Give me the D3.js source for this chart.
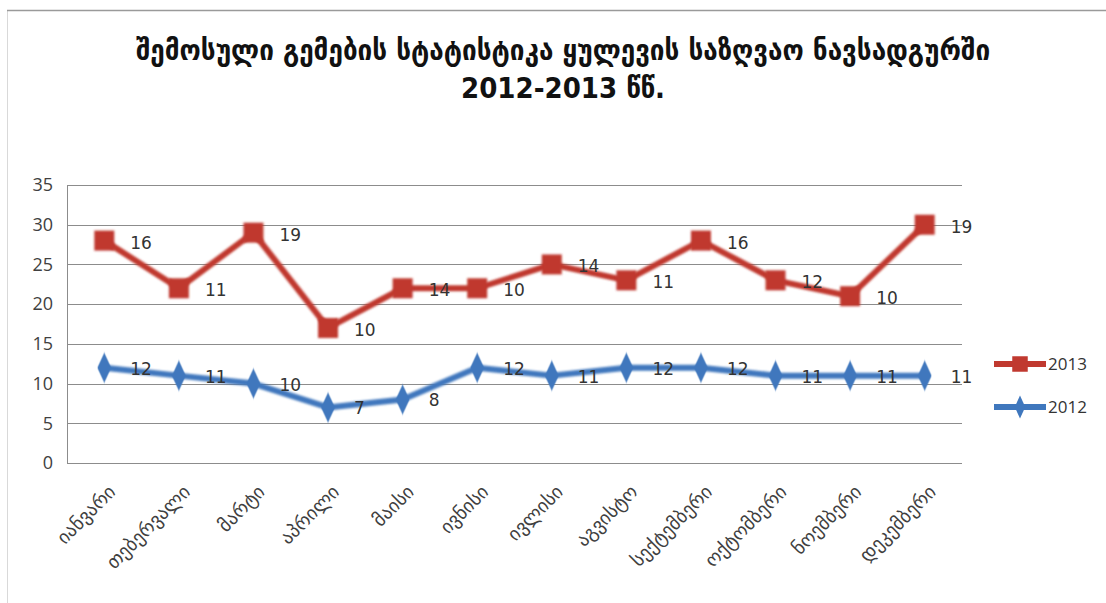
<!DOCTYPE html>
<html>
<head>
<meta charset="utf-8">
<script src="https://cdn.jsdelivr.net/npm/d3@7"></script>
<style>
  html, body { margin: 0; padding: 0; background: #fff; }
  svg { display: block; }
</style>
</head>
<body>
<svg id="chart" width="1106" height="603"></svg>
<script>
// Ships arriving at Kulevi sea port, by month, 2012 and 2013 (stacked lines)
const months = ["იანვარი","თებერვალი","მარტი","აპრილი","მაისი","ივნისი",
                "ივლისი","აგვისტო","სექტემბერი","ოქტომბერი","ნოემბერი","დეკემბერი"];
const ships2012 = [12, 11, 10, 7, 8, 12, 11, 12, 12, 11, 11, 11];
const ships2013 = [16, 11, 19, 10, 14, 10, 14, 11, 16, 12, 10, 19];
const seriesNames = ["2012", "2013"];
const yTicks = [0, 5, 10, 15, 20, 25, 30, 35];
const titleLines = ["შემოსული გემების სტატისტიკა  ყულევის საზღვაო ნავსადგურში", "2012-2013 წწ."];

const colors = { "2012": "#3f77bd", "2013": "#c0392f" };

const svg = d3.select("#chart");
const W = 1106, H = 603;
const plot = { left: 67, right: 962, top: 185, bottom: 463 };

// frame
svg.append("rect").attr("x", 7.5).attr("y", 10.5).attr("width", 1110).attr("height", 620)
  .attr("fill", "none").attr("stroke", "#d9d9d9").attr("stroke-width", 1);
svg.append("line").attr("x1", 7).attr("x2", W).attr("y1", 10.5).attr("y2", 10.5)
  .attr("stroke", "#9a9a9a").attr("stroke-width", 1.5);

// stacked data
const rows = months.map((m, i) => ({ month: m, "2012": ships2012[i], "2013": ships2013[i] }));
const stacked = d3.stack().keys(seriesNames)(rows);

const x = d3.scalePoint().domain(months).range([plot.left, plot.right]).padding(0.5);
const y = d3.scaleLinear().domain([0, 35]).range([plot.bottom, plot.top]);

// gridlines
svg.append("g").selectAll("line").data(yTicks).join("line")
  .attr("x1", plot.left).attr("x2", plot.right)
  .attr("y1", d => Math.round(y(d)) + 0.5).attr("y2", d => Math.round(y(d)) + 0.5)
  .attr("stroke", "#8c8c8c").attr("stroke-width", 1);
svg.append("line").attr("x1", plot.left + 0.5).attr("x2", plot.left + 0.5)
  .attr("y1", plot.top).attr("y2", plot.bottom).attr("stroke", "#8c8c8c");

// y axis
const yAxis = d3.axisLeft(y).tickValues(yTicks).tickSize(0).tickPadding(14);
const gy = svg.append("g").attr("transform", `translate(${plot.left},0)`).call(yAxis);
gy.select(".domain").remove();
gy.selectAll("text").attr("font-family", "Open Sans, DejaVu Sans, sans-serif")
  .attr("font-size", 18).attr("fill", "#404040");

// x axis labels (rotated)
const xAxis = d3.axisBottom(x).tickSize(0).tickPadding(0);
const gx = svg.append("g").attr("transform", `translate(0,${plot.bottom})`).call(xAxis);
gx.select(".domain").remove();
gx.selectAll("text")
  .attr("font-family", "DejaVu Sans, sans-serif").attr("font-size", 19).attr("fill", "#404040")
  .attr("text-anchor", "end").attr("dy", null).attr("y", 0)
  .attr("transform", "translate(12,30) rotate(-45)");

// glow filter for markers
const defs = svg.append("defs");
const f = defs.append("filter").attr("id", "soft").attr("x", "-50%").attr("y", "-50%").attr("width", "200%").attr("height", "200%");
f.append("feGaussianBlur").attr("stdDeviation", 0.8);

const line = d3.line().x(d => x(d.data.month)).y(d => y(d[1]));

const markerSquare = d3.symbol().type(d3.symbolSquare).size(400);
const markerDiamond = d3.symbol().type(d3.symbolDiamond).size(260);

stacked.forEach(s => {
  const key = s.key;
  const g = svg.append("g");
  g.append("path").datum(s).attr("d", line)
    .attr("fill", "none").attr("stroke", colors[key]).attr("stroke-width", 6)
    .attr("stroke-linejoin", "round").attr("filter", "url(#soft)");
  g.selectAll("path.mk").data(s).join("path").attr("class", "mk")
    .attr("transform", d => `translate(${x(d.data.month)},${y(d[1])})${key === "2012" ? " scale(0.8,1)" : ""}`)
    .attr("d", key === "2013" ? markerSquare : markerDiamond)
    .attr("fill", colors[key]).attr("filter", "url(#soft)");
  g.selectAll("text").data(s).join("text")
    .attr("x", d => x(d.data.month) + 26)
    .attr("y", d => y(d[1]) + (key === "2013" ? 8 : 7))
    .attr("font-family", "DejaVu Sans, sans-serif").attr("font-size", 17)
    .attr("fill", "#333")
    .text(d => d.data[key]);
});

// legend
const legend = svg.append("g");
["2013", "2012"].forEach((k, i) => {
  const ly = 364 + i * 43;
  legend.append("line").attr("x1", 994).attr("x2", 1046).attr("y1", ly).attr("y2", ly)
    .attr("stroke", colors[k]).attr("stroke-width", 6);
  legend.append("path")
    .attr("transform", `translate(1020,${ly})${k === "2012" ? " scale(0.8,1)" : ""}`)
    .attr("d", (k === "2013" ? d3.symbol().type(d3.symbolSquare).size(240) : d3.symbol().type(d3.symbolDiamond).size(150))())
    .attr("fill", colors[k]);
  legend.append("text").attr("x", 1048).attr("y", ly + 6)
    .attr("font-family", "Open Sans, DejaVu Sans, sans-serif").attr("font-size", 17).attr("fill", "#333")
    .text(k);
});

// title
svg.append("g").selectAll("text").data(titleLines).join("text")
  .attr("x", 563).attr("y", (d, i) => 60 + i * 38)
  .attr("text-anchor", "middle")
  .attr("font-family", "DejaVu Sans Condensed, DejaVu Sans, sans-serif")
  .attr("font-weight", "bold").attr("font-size", 29).attr("fill", "#111")
  .text(d => d);
</script>
</body>
</html>
